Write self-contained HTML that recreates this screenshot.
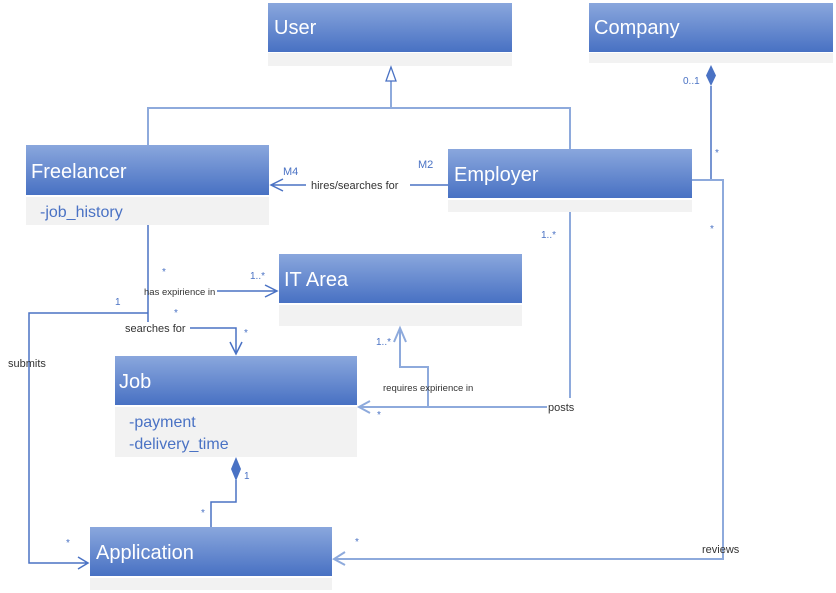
<!DOCTYPE html>
<html><head><meta charset="utf-8"><style>
html,body{margin:0;padding:0;background:#fff;width:836px;height:593px;overflow:hidden}
svg{display:block}
text{font-family:"Liberation Sans",sans-serif}
.h{fill:#fff;font-size:20px}
.a{fill:#4a72c4;font-size:16px}
.m{fill:#4a72c4;font-size:10px}
.l{fill:#333;font-size:11px}
.ln{stroke:#8eaadc;stroke-width:2;fill:none}
.ld{stroke:#4a72c4;stroke-width:1.5;fill:none}
</style></head><body>
<svg width="836" height="593" viewBox="0 0 836 593">
<defs><linearGradient id="g" x1="0" y1="0" x2="0" y2="1"><stop offset="0" stop-color="#8aa7dd"/><stop offset="1" stop-color="#4871c3"/></linearGradient></defs>
<!-- boxes -->
<rect x="268" y="3" width="244" height="49" fill="url(#g)"/><rect x="268" y="53" width="244" height="13" fill="#f2f2f2"/>
<text class="h" x="274" y="34">User</text>
<rect x="589" y="3" width="244" height="49" fill="url(#g)"/><rect x="589" y="53" width="244" height="10" fill="#f2f2f2"/>
<text class="h" x="594" y="34">Company</text>
<rect x="26" y="145" width="243" height="50" fill="url(#g)"/><rect x="26" y="197" width="243" height="28" fill="#f2f2f2"/>
<text class="h" x="31" y="178">Freelancer</text><text class="a" x="40" y="217">-job_history</text>
<rect x="448" y="149" width="244" height="49" fill="url(#g)"/><rect x="448" y="200" width="244" height="12" fill="#f2f2f2"/>
<text class="h" x="454" y="181">Employer</text>
<rect x="279" y="254" width="243" height="49" fill="url(#g)"/><rect x="279" y="305" width="243" height="21" fill="#f2f2f2"/>
<text class="h" x="284" y="286">IT Area</text>
<rect x="115" y="356" width="242" height="49" fill="url(#g)"/><rect x="115" y="407" width="242" height="50" fill="#f2f2f2"/>
<text class="h" x="119" y="388">Job</text><text class="a" x="129" y="427">-payment</text><text class="a" x="129" y="449">-delivery_time</text>
<rect x="90" y="527" width="242" height="49" fill="url(#g)"/><rect x="90" y="578" width="242" height="12" fill="#f2f2f2"/>
<text class="h" x="96" y="559">Application</text>
<!-- generalization -->
<path class="ln" d="M148 145V108H570V149M391 108V81"/>
<path d="M391 67L386 81H396Z" fill="#fff" stroke="#4a72c4" stroke-width="1.3"/>
<!-- hires -->
<path class="ld" d="M448 185H410M306 185H271M283 179L271 185L283 191"/>
<text class="m" x="283" y="175" style="font-size:11px">M4</text><text class="m" x="418" y="168" style="font-size:11px">M2</text>
<text class="l" x="311" y="189">hires/searches for</text>
<!-- company -->
<path class="ld" d="M711 86V180H692"/>
<path d="M711 65L706 75.5L711 86L716 75.5Z" fill="#4a72c4"/>
<text class="m" x="683" y="84">0..1</text><text class="m" x="715" y="156">*</text>
<path class="ln" d="M692 180H723V559H334M345 552L334 559L345 565"/>
<text class="m" x="710" y="232">*</text><text class="m" x="355" y="545">*</text>
<text class="l" x="702" y="553">reviews</text>
<!-- posts -->
<path class="ln" d="M570 212V398M547 407H359M370 401L359 407L370 413"/>
<text class="m" x="541" y="238">1..*</text><text class="m" x="377" y="418">*</text>
<text class="l" x="548" y="411">posts</text>
<!-- requires -->
<path class="ln" d="M428 406V367H400V328M394 342L400 328L406 342"/>
<text class="m" x="376" y="345">1..*</text>
<text class="l" x="383" y="391" style="font-size:9.5px">requires expirience in</text>
<!-- freelancer lines -->
<path class="ld" d="M148 225V322M148 313H29V563H88M78 557L88 563L78 569"/>
<text class="m" x="115" y="305">1</text><text class="m" x="66" y="546">*</text>
<text class="l" x="8" y="367">submits</text>
<path class="ld" d="M217 291H277M265 285L277 291L265 297"/>
<text class="l" x="144" y="295" style="font-size:9.5px">has expirience in</text>
<text class="m" x="162" y="275">*</text><text class="m" x="250" y="279">1..*</text>
<path class="ld" d="M190 328H236V354M230 342L236 354L242 342"/>
<text class="l" x="125" y="332">searches for</text>
<text class="m" x="174" y="316">*</text><text class="m" x="244" y="336">*</text>
<!-- job-application -->
<path class="ld" d="M236 480V502H211V527"/>
<path d="M236 457L231 469L236 481L241 469Z" fill="#4a72c4"/>
<text class="m" x="244" y="479">1</text><text class="m" x="201" y="516">*</text>
</svg>
</body></html>
